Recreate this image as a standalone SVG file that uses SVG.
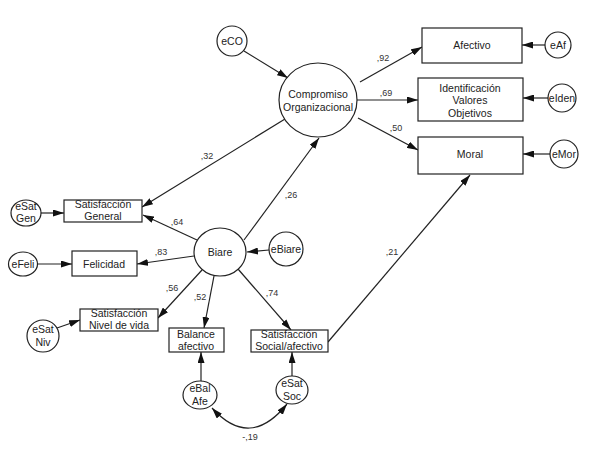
<svg xmlns="http://www.w3.org/2000/svg" width="589" height="455" viewBox="0 0 589 455">
<style>
.n{fill:#fff;stroke:#222;stroke-width:1.2}
.t{font-family:"Liberation Sans",Arial,sans-serif;font-size:10.5px;fill:#222;text-anchor:middle}
.c{font-family:"Liberation Sans",Arial,sans-serif;font-size:9px;fill:#333;text-anchor:middle}
.e{fill:none;stroke:#222;stroke-width:1.2;marker-end:url(#ah)}
</style>
<defs>
<marker id="ah" markerWidth="11" markerHeight="7" refX="11" refY="3.5" orient="auto" markerUnits="userSpaceOnUse"><path d="M0,0 L11,3.5 L0,7 z" fill="#111"/></marker>
<marker id="as" markerWidth="11" markerHeight="7" refX="11" refY="3.5" orient="auto-start-reverse" markerUnits="userSpaceOnUse"><path d="M0,0 L11,3.5 L0,7 z" fill="#111"/></marker>
</defs>
<rect width="589" height="455" fill="#fff"/>
<g id="connectors">
<line class="e" x1="244" y1="51" x2="288" y2="78"/>
<line class="e" x1="360" y1="82" x2="422" y2="47"/>
<line class="e" x1="357" y1="100" x2="418" y2="100"/>
<line class="e" x1="358" y1="118" x2="418" y2="150"/>
<line class="e" x1="545" y1="45" x2="522" y2="45"/>
<line class="e" x1="548" y1="98" x2="523" y2="98"/>
<line class="e" x1="550" y1="154" x2="523" y2="154"/>
<line class="e" x1="285" y1="119" x2="142" y2="207"/>
<line class="e" x1="244" y1="240" x2="319" y2="138"/>
<line class="e" x1="41" y1="213" x2="64" y2="213"/>
<line class="e" x1="37" y1="264" x2="72" y2="264"/>
<line class="e" x1="57" y1="328" x2="80" y2="320"/>
<line class="e" x1="197" y1="240" x2="143" y2="215"/>
<line class="e" x1="194" y1="256" x2="137" y2="264"/>
<line class="e" x1="202" y1="270" x2="158" y2="318"/>
<line class="e" x1="214" y1="276" x2="204" y2="328"/>
<line class="e" x1="238" y1="269" x2="291" y2="330"/>
<line class="e" x1="269" y1="250" x2="247" y2="252"/>
<line class="e" x1="328" y1="342" x2="470" y2="175"/>
<line class="e" x1="201" y1="382" x2="201" y2="352"/>
<line class="e" x1="292" y1="376" x2="292" y2="352"/>
<path d="M212,408 Q250,450 287,404" fill="none" stroke="#222" stroke-width="1.2" marker-start="url(#as)" marker-end="url(#ah)"/>
<text class="c" x="383" y="61">,92</text>
<text class="c" x="386" y="96">,69</text>
<text class="c" x="396" y="131">,50</text>
<text class="c" x="207" y="159">,32</text>
<text class="c" x="291" y="198">,26</text>
<text class="c" x="177" y="225">,64</text>
<text class="c" x="161" y="255">,83</text>
<text class="c" x="172" y="291">,56</text>
<text class="c" x="200" y="300">,52</text>
<text class="c" x="272" y="296">,74</text>
<text class="c" x="392" y="255">,21</text>
<text class="c" x="250" y="440">-,19</text>
</g>
<g id="eCO"><circle class="n" cx="232" cy="41" r="15"/><text class="t" x="232" y="45">eCO</text></g>
<g id="Compromiso"><ellipse class="n" cx="318" cy="100" rx="39" ry="37"/><text class="t" x="318" y="98">Compromiso</text><text class="t" x="318" y="111">Organizacional</text></g>
<g id="Afectivo"><rect class="n" x="422" y="28" width="100" height="35"/><text class="t" x="472" y="49">Afectivo</text></g>
<g id="Identificacion"><rect class="n" x="418" y="78" width="105" height="43"/><text class="t" x="470" y="92">Identificación</text><text class="t" x="470" y="104">Valores</text><text class="t" x="470" y="117">Objetivos</text></g>
<g id="Moral"><rect class="n" x="418" y="137" width="105" height="37"/><text class="t" x="470" y="158">Moral</text></g>
<g id="eAf"><circle class="n" cx="558" cy="45" r="13"/><text class="t" x="558" y="49">eAf</text></g>
<g id="eIden"><circle class="n" cx="562" cy="98" r="14"/><text class="t" x="562" y="102">eIden</text></g>
<g id="eMor"><circle class="n" cx="564" cy="154" r="14"/><text class="t" x="564" y="158">eMor</text></g>
<g id="SatGeneral"><rect class="n" x="64" y="200" width="78" height="22"/><text class="t" x="103" y="208">Satisfacción</text><text class="t" x="103" y="220">General</text></g>
<g id="eSatGen"><ellipse class="n" cx="26" cy="213" rx="15" ry="13"/><text class="t" x="26" y="210">eSat</text><text class="t" x="26" y="222">Gen</text></g>
<g id="Felicidad"><rect class="n" x="72" y="251" width="65" height="25"/><text class="t" x="104" y="268">Felicidad</text></g>
<g id="eFeli"><ellipse class="n" cx="23" cy="264" rx="14.5" ry="12"/><text class="t" x="23" y="268">eFeli</text></g>
<g id="Biare"><ellipse class="n" cx="220" cy="252" rx="26" ry="24"/><text class="t" x="220" y="256">Biare</text></g>
<g id="eBiare"><circle class="n" cx="286" cy="249" r="17"/><text class="t" x="286" y="253">eBiare</text></g>
<g id="SatNivel"><rect class="n" x="80" y="309" width="78" height="22"/><text class="t" x="119" y="317">Satisfacción</text><text class="t" x="119" y="329">Nivel de vida</text></g>
<g id="eSatNiv"><ellipse class="n" cx="43" cy="336" rx="16" ry="16"/><text class="t" x="43" y="333">eSat</text><text class="t" x="43" y="346">Niv</text></g>
<g id="Balance"><rect class="n" x="169" y="328" width="55" height="24"/><text class="t" x="196" y="338">Balance</text><text class="t" x="196" y="350">afectivo</text></g>
<g id="SatSocial"><rect class="n" x="251" y="330" width="77" height="22"/><text class="t" x="289" y="338">Satisfacción</text><text class="t" x="289" y="350">Social/afectivo</text></g>
<g id="eBalAfe"><ellipse class="n" cx="200" cy="395" rx="17" ry="14"/><text class="t" x="200" y="392">eBal</text><text class="t" x="200" y="405">Afe</text></g>
<g id="eSatSoc"><ellipse class="n" cx="292" cy="390" rx="16" ry="14"/><text class="t" x="292" y="387">eSat</text><text class="t" x="292" y="400">Soc</text></g>
</svg>
